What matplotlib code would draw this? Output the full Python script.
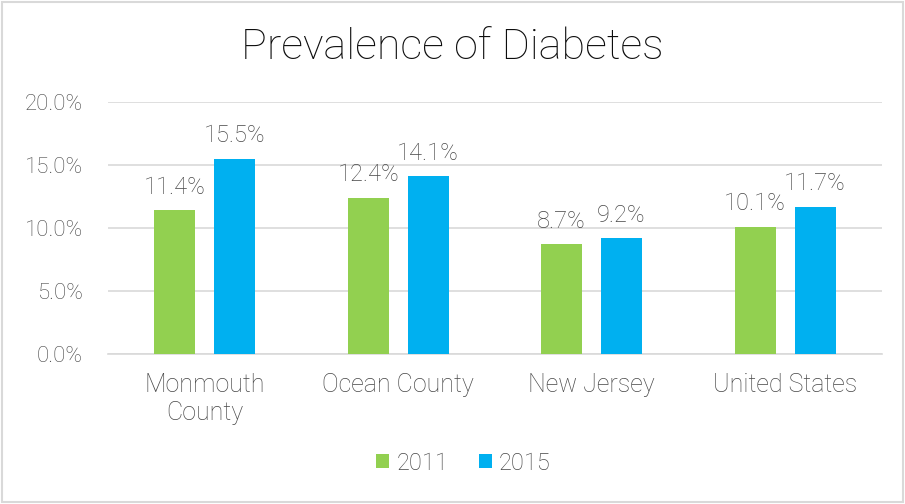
import matplotlib.pyplot as plt
import numpy as np
from matplotlib.patches import Rectangle

categories = ['Monmouth\nCounty', 'Ocean County', 'New Jersey', 'United States']
years = ['2011', '2015']
rate_2011 = [11.4, 12.4, 8.7, 10.1]
rate_2015 = [15.5, 14.1, 9.2, 11.7]

green = '#92d050'
blue = '#00b0f0'
text_gray = '#474747'

plt.rcParams['font.family'] = ['Roboto', 'DejaVu Sans']
plt.rcParams['font.weight'] = 'light'

fig = plt.figure(figsize=(9.05, 5.04), dpi=100)
ax = fig.add_axes([0.1193, 0.2976, 0.8552, 0.5])

x = np.arange(len(categories))
width = 0.212
offset = 0.155

bars1 = ax.bar(x - offset, rate_2011, width, color=green, label=years[0], zorder=3)
bars2 = ax.bar(x + offset, rate_2015, width, color=blue, label=years[1], zorder=3)

for bars, vals in [(bars1, rate_2011), (bars2, rate_2015)]:
    for b, v in zip(bars, vals):
        ax.text(b.get_x() + b.get_width() / 2, v + 1.3, f'{v:.1f}%',
                ha='center', va='baseline', fontsize=17, color=text_gray)

ax.set_xlim(-0.5, len(categories) - 0.5)
ax.set_ylim(0, 20)
ax.set_yticks(np.arange(0, 20.1, 5))
ax.set_yticklabels([f'{t:.1f}%' for t in np.arange(0, 20.1, 5)])
ax.set_xticks(x)
ax.set_xticklabels(categories, linespacing=1.2)
ax.tick_params(axis='y', length=0, labelsize=16, labelcolor=text_gray, pad=18)
ax.tick_params(axis='x', length=0, labelsize=18, labelcolor=text_gray, pad=14)
ax.grid(axis='y', color='#d9d9d9', linewidth=1.2, zorder=0)
for s in ['top', 'right', 'left']:
    ax.spines[s].set_visible(False)
ax.spines['bottom'].set_color('#d9d9d9')
ax.spines['bottom'].set_linewidth(1.2)

fig.text(0.5, 0.905, 'Prevalence of Diabetes', ha='center', va='center',
         fontsize=31, color='#0d0d0d', fontweight='light')

leg = fig.legend(loc='center', bbox_to_anchor=(0.512, 0.081), ncol=2, frameon=False,
                 fontsize=17, handlelength=0.55, handleheight=0.55, handletextpad=0.3,
                 columnspacing=1.3)
for t in leg.get_texts():
    t.set_color(text_gray)

# light frame around the whole chart
fig.patches.append(Rectangle((0.002, 0.004), 0.996, 0.992, transform=fig.transFigure,
                             fill=False, edgecolor='#d9d9d9', linewidth=1.5))

fig.savefig('out.png', dpi=100)
